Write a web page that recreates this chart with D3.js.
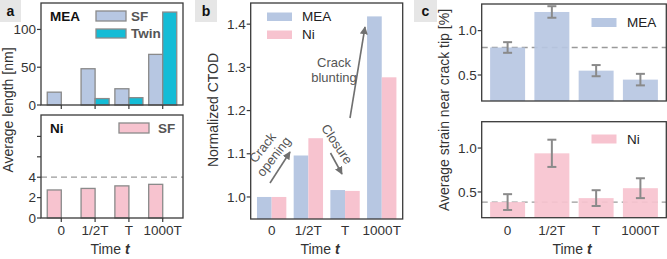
<!DOCTYPE html>
<html>
<head>
<meta charset="utf-8">
<script src="https://cdn.jsdelivr.net/npm/d3@7"></script>
<style>
  body { margin: 0; background: #fff; }
  svg { font-family: "Liberation Sans", Arial, sans-serif; }
</style>
</head>
<body>
<svg id="fig" width="667" height="259"></svg>
<script>
// data
var times = ["0", "1/2T", "T", "1000T"];

// panel a: average length [nm]
var meaSF = [17, 48, 21.5, 67];
var meaTwin = [0, 8.5, 9.7, 123];
var niSF = [2.75, 2.9, 3.15, 3.3];
var niRef = 4;

// panel b: normalized CTOD
var ctodMEA = [1.0, 1.096, 1.016, 1.418];
var ctodNi = [1.0, 1.136, 1.014, 1.277];

// panel c: average strain near crack tip [%]
var strainMEA = [0.81, 1.21, 0.549, 0.448];
var strainMEAerr = [0.06, 0.065, 0.063, 0.065];
var strainNi = [0.385, 0.94, 0.43, 0.543];
var strainNiErr = [0.09, 0.155, 0.09, 0.113];

var cMEA = "#b7c7e2", cNi = "#f7c3cf", cTwin = "#14bcd6";
var frame = "#3a3a3a", tickCol = "#333";
var tickSize = "13.5px", titleSize = "14px";

var svg = d3.select("#fig");

function box(x0, y0, x1, y1) {
    svg.append("rect")
        .attr("x", x0).attr("y", y0)
        .attr("width", x1 - x0).attr("height", y1 - y0)
        .attr("fill", "none")
        .attr("stroke", frame)
        .attr("stroke-width", 1.3);
}

function yAxis(y, x0, ticks, fmt, labelled) {
    var g = svg.append("g");
    ticks.forEach(function (t) {
        g.append("line")
            .attr("x1", x0 - 4).attr("x2", x0)
            .attr("y1", y(t)).attr("y2", y(t))
            .attr("stroke", frame).attr("stroke-width", 1.2);
        if (!labelled || labelled.indexOf(t) >= 0) {
            g.append("text")
                .attr("x", x0 - 5).attr("y", y(t))
                .attr("dy", "0.35em")
                .attr("text-anchor", "end")
                .attr("font-size", tickSize)
                .attr("fill", tickCol)
                .text(fmt(t));
        }
    });
}

function xTicks(x, yPos) {
    times.forEach(function (t) {
        var cx = x(t) + x.bandwidth() / 2;
        svg.append("line")
            .attr("x1", cx).attr("x2", cx)
            .attr("y1", yPos).attr("y2", yPos + 4)
            .attr("stroke", frame).attr("stroke-width", 1.2);
    });
}

function tickText(x, yPos) {
    times.forEach(function (t) {
        svg.append("text")
            .attr("x", x(t) + x.bandwidth() / 2)
            .attr("y", yPos)
            .attr("text-anchor", "middle")
            .attr("font-size", tickSize)
            .attr("fill", tickCol)
            .text(t);
    });
}

function timeLabel(cx) {
    var t = svg.append("text")
        .attr("x", cx).attr("y", 254)
        .attr("text-anchor", "middle")
        .attr("font-size", titleSize)
        .attr("fill", tickCol);
    t.append("tspan").text("Time ");
    t.append("tspan").attr("font-weight", "bold").attr("font-style", "italic").text("t");
}

function yTitle(cx, cy, txt) {
    svg.append("text")
        .attr("transform", "translate(" + cx + "," + cy + ") rotate(-90)")
        .attr("text-anchor", "middle")
        .attr("font-size", titleSize)
        .attr("fill", tickCol)
        .text(txt);
}

function panelTag(x, w, s) {
    svg.append("rect").attr("x", x).attr("y", 0).attr("width", w).attr("height", 22).attr("fill", "#e6e6e6");
    svg.append("text").attr("x", x + w / 2).attr("y", 16)
        .attr("text-anchor", "middle").attr("font-size", "14px").attr("font-weight", "bold")
        .attr("fill", "#111").text(s);
}

function legendItem(x, y, w, h, fill, stroke, label, tx, weight, col) {
    svg.append("rect").attr("x", x).attr("y", y).attr("width", w).attr("height", h)
        .attr("fill", fill).attr("stroke", stroke || "none").attr("stroke-width", 1.3);
    svg.append("text").attr("x", tx).attr("y", y + h / 2).attr("dy", "0.35em")
        .attr("font-size", tickSize).attr("font-weight", weight || "normal")
        .attr("fill", col || "#222").text(label);
}

// ---------------- panel a ----------------
panelTag(0, 21, "a");
var ax = d3.scaleBand().domain(times).range([41, 183]).paddingInner(0.17).paddingOuter(0.185);
var bw = ax.bandwidth() / 2;

// top: MEA
var ayTop = d3.scaleLinear().domain([0, 135]).range([105, 3]);
svg.selectAll(".meaSF").data(meaSF).enter().append("rect")
    .attr("x", function (d, i) { return ax(times[i]); })
    .attr("y", function (d) { return ayTop(d); })
    .attr("width", bw)
    .attr("height", function (d) { return ayTop(0) - ayTop(d); })
    .attr("fill", cMEA).attr("stroke", "#8a8a8a").attr("stroke-width", 1.3);
svg.selectAll(".meaTw").data(meaTwin).enter().filter(function (d) { return d > 0; }).append("rect")
    .attr("x", function (d) { return ax(times[meaTwin.indexOf(d)]) + bw; })
    .attr("y", function (d) { return ayTop(d); })
    .attr("width", bw)
    .attr("height", function (d) { return ayTop(0) - ayTop(d); })
    .attr("fill", cTwin).attr("stroke", "#8a8a8a").attr("stroke-width", 1.3);
box(41, 3, 183, 105);
yAxis(ayTop, 41, [0, 50, 100], d3.format("d"));
xTicks(ax, 105);
svg.append("text").attr("x", 50).attr("y", 21).attr("font-size", tickSize).attr("font-weight", "bold").attr("fill", "#111").text("MEA");
legendItem(96, 11, 30, 10, cMEA, "#8a8a8a", "SF", 131, "bold", "#555");
legendItem(96, 29, 30, 9, cTwin, "#8a8a8a", "Twin", 131, "bold", "#555");

// bottom: Ni
var ayBot = d3.scaleLinear().domain([0, 10.1]).range([218, 115]);
svg.append("line").attr("x1", 41).attr("x2", 183)
    .attr("y1", ayBot(niRef)).attr("y2", ayBot(niRef))
    .attr("stroke", "#9a9a9a").attr("stroke-width", 1.3).attr("stroke-dasharray", "6,4");
svg.selectAll(".niSF").data(niSF).enter().append("rect")
    .attr("x", function (d, i) { return ax(times[i]); })
    .attr("y", function (d) { return ayBot(d); })
    .attr("width", bw)
    .attr("height", function (d) { return ayBot(0) - ayBot(d); })
    .attr("fill", cNi).attr("stroke", "#8a8a8a").attr("stroke-width", 1.3);
box(41, 115, 183, 218);
yAxis(ayBot, 41, [0, 2, 4, 6, 8], d3.format("d"), [0, 2, 4]);
xTicks(ax, 218);
tickText(ax, 235);
svg.append("text").attr("x", 50).attr("y", 133).attr("font-size", tickSize).attr("font-weight", "bold").attr("fill", "#111").text("Ni");
legendItem(119, 123, 30, 10, cNi, "#8a8a8a", "SF", 158, "bold", "#555");
yTitle(12.5, 110, "Average length [nm]");
timeLabel(110);

// ---------------- panel b ----------------
panelTag(195, 22, "b");
var bx = d3.scaleBand().domain(times).range([250.7, 402.7]).paddingInner(0.2).paddingOuter(0.171);
var by = d3.scaleLinear().domain([0.949, 1.449]).range([219, 3]);
var bbw = bx.bandwidth() / 2;
svg.selectAll(".cm").data(ctodMEA).enter().append("rect")
    .attr("x", function (d, i) { return bx(times[i]); })
    .attr("y", function (d) { return by(d); })
    .attr("width", bbw)
    .attr("height", function (d) { return by.range()[0] - by(d); })
    .attr("fill", cMEA);
svg.selectAll(".cn").data(ctodNi).enter().append("rect")
    .attr("x", function (d, i) { return bx(times[i]) + bbw; })
    .attr("y", function (d) { return by(d); })
    .attr("width", bbw)
    .attr("height", function (d) { return by.range()[0] - by(d); })
    .attr("fill", cNi);
box(250.7, 3, 402.7, 219);
yAxis(by, 250.7, [1.0, 1.1, 1.2, 1.3, 1.4], d3.format(".1f"));
tickText(bx, 235);
legendItem(267, 12.5, 25, 8.5, cMEA, null, "MEA", 302, "normal", "#222");
legendItem(267, 30.5, 25, 8.5, cNi, null, "Ni", 302, "normal", "#222");
yTitle(217.5, 110, "Normalized CTOD");
timeLabel(320);

// annotations
var defs = svg.append("defs");
defs.append("marker").attr("id", "ah").attr("viewBox", "0 0 10 10")
    .attr("refX", 9).attr("refY", 5).attr("markerWidth", 5).attr("markerHeight", 5)
    .attr("orient", "auto")
    .append("path").attr("d", "M0,0 L10,5 L0,10 z").attr("fill", "#707070");
function arrow(x1, y1, x2, y2) {
    svg.append("line").attr("x1", x1).attr("y1", y1).attr("x2", x2).attr("y2", y2)
        .attr("stroke", "#707070").attr("stroke-width", 1.6).attr("marker-end", "url(#ah)");
}
function note(x, y, ang, lines) {
    var t = svg.append("text")
        .attr("transform", "translate(" + x + "," + y + ") rotate(" + ang + ")")
        .attr("text-anchor", "middle").attr("font-size", "13px").attr("fill", "#555");
    lines.forEach(function (l, i) {
        t.append("tspan").attr("x", 0).attr("dy", i === 0 ? (-(lines.length - 1) * 0.55 + 0.35) + "em" : "1.1em").text(l);
    });
}
arrow(270, 183, 290, 152);
note(268, 152, -52, ["Crack", "opening"]);
arrow(330.5, 153, 342, 174);
note(337, 144, 56, ["Closure"]);
arrow(350, 118, 365, 27);
note(334, 70, 0, ["Crack", "blunting"]);

// ---------------- panel c ----------------
panelTag(414, 23, "c");
var cx = d3.scaleBand().domain(times).range([481.7, 666.3]).paddingInner(0.21).paddingOuter(0.19);
function strainPanel(y0, y1, vals, errs, col, ref, label, ly) {
    var y = d3.scaleLinear().domain([0.207, 1.3]).range([y1, y0]);
    svg.append("line").attr("x1", 481.7).attr("x2", 666.3)
        .attr("y1", y(ref)).attr("y2", y(ref))
        .attr("stroke", "#9a9a9a").attr("stroke-width", 1.3).attr("stroke-dasharray", "6,4");
    svg.append("g").selectAll("rect").data(vals).enter().append("rect")
        .attr("x", function (d, i) { return cx(times[i]); })
        .attr("y", function (d) { return y(d); })
        .attr("width", cx.bandwidth())
        .attr("height", function (d) { return y1 - y(d); })
        .attr("fill", col).attr("fill-opacity", 0.92);
    var eb = svg.append("g").attr("stroke", "#8a8a8a").attr("stroke-width", 2);
    vals.forEach(function (v, i) {
        var m = cx(times[i]) + cx.bandwidth() / 2;
        eb.append("line").attr("x1", m).attr("x2", m).attr("y1", y(v - errs[i])).attr("y2", y(v + errs[i]));
        eb.append("line").attr("x1", m - 4.5).attr("x2", m + 4.5).attr("y1", y(v - errs[i])).attr("y2", y(v - errs[i]));
        eb.append("line").attr("x1", m - 4.5).attr("x2", m + 4.5).attr("y1", y(v + errs[i])).attr("y2", y(v + errs[i]));
    });
    box(481.7, y0, 666.3, y1);
    yAxis(y, 481.7, [0.5, 1.0], d3.format(".1f"));
    legendItem(591.5, ly, 25, 9, col, null, label, 627, "normal", "#222");
}
strainPanel(4, 101, strainMEA, strainMEAerr, cMEA, 0.81, "MEA", 18);
strainPanel(121.7, 217.7, strainNi, strainNiErr, cNi, 0.385, "Ni", 134.5);
tickText(cx, 235);
yTitle(449, 110, "Average strain near crack tip [%]");
timeLabel(572);
</script>
</body>
</html>
